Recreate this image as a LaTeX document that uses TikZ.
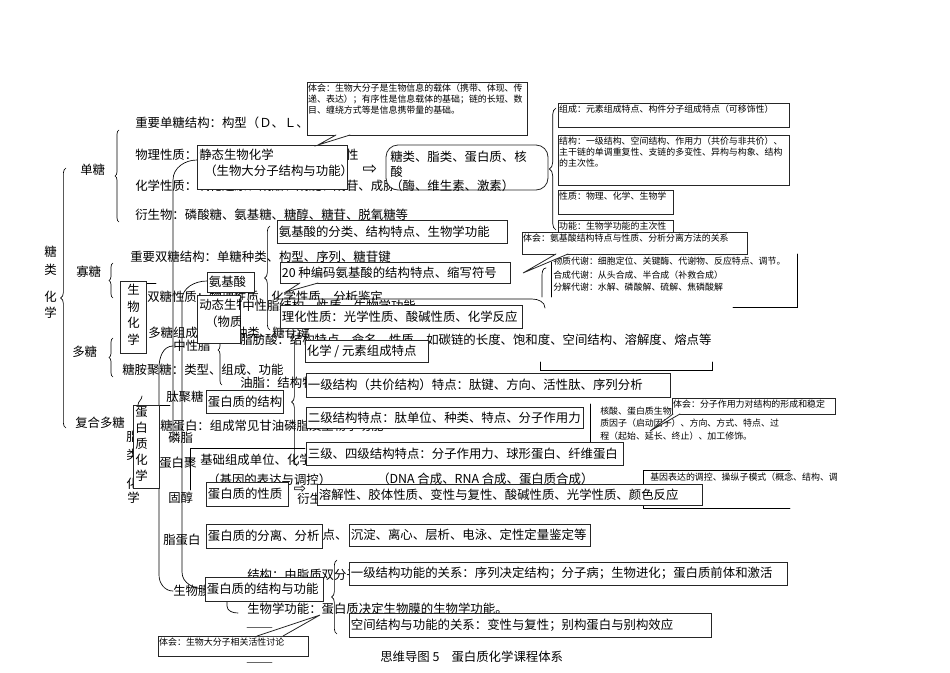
\documentclass[tikz,border=0pt]{standalone}
\usepackage{fontspec}
\setmainfont{Noto Sans CJK SC}
\newfontfamily\symfont{DejaVu Sans}
\usetikzlibrary{fit,decorations.pathreplacing}
\tikzset{
  txt/.style={inner sep=0pt,anchor=west,font=\fontsize{9.3}{12.4}\selectfont},
  note/.style={inner sep=0pt,anchor=west,align=left,font=\fontsize{6.7}{8.4}\selectfont},
  boxed/.style={draw=black!85,fill=white,line width=0.6pt,inner sep=0pt},
  brc/.style={decorate,decoration={brace,amplitude=#1},line width=0.5pt},
  ln/.style={line width=0.5pt},
  tail/.style={draw=black!85,fill=white,line width=0.6pt}
}
% box with one line of text
\newcommand\bx[6]{%
  \node[boxed,fit={(#2,#3) (#4,#5)}] (#1) {};
  \node[txt] (#1t) at ([xshift=1.5pt]#1.west) {#6};}
% box with small text from the top
\newcommand\nbx[6]{%
  \node[boxed,fit={(#2,#3) (#4,#5)}] (#1) {};
  \node[note,anchor=north west] (#1t) at ([shift={(1pt,-1.5pt)}]#1.north west) {#6};}
\begin{document}
\begin{tikzpicture}[x=0.75pt,y=-0.75pt,line cap=round]
\useasboundingbox (0,0) rectangle (950,672);
% sugar map (behind)
\node[txt] (c1) at (44,252) {糖};
\node[txt] (c2) at (44,270) {类};
\node[txt] (c3) at (44,297) {化};
\node[txt] (c4) at (44,313) {学};
\draw[brc=4pt] (66,428) -- (66,168);
\node[txt] (mono) at (80,170) {单糖};
\node[txt] (olig) at (76,272) {寡糖};
\node[txt] (poly) at (72,352) {多糖};
\node[txt] (cplx) at (75,423) {复合多糖};
\draw[brc=3pt] (119,222) -- (119,130);
\draw[brc=3pt] (113,298) -- (113,263);
\draw[brc=3pt] (113,377) -- (113,338);
\node[txt] (s1) at (135,123) {重要单糖结构：构型（Ｄ、Ｌ、α、β）};
\node[txt] (s2) at (135,155) {物理性质：甜度、溶解性、旋光、变旋性};
\node[txt] (s3) at (135,186) {化学性质：氧化还原、成酯、成醚、成苷、成脎};
\node[txt] (s4) at (135,215) {衍生物：磷酸糖、氨基糖、糖醇、糖苷、脱氧糖等};
\node[txt] (s5) at (130,257) {重要双糖结构：单糖种类、构型、序列、糖苷键};
\node[txt] (s6) at (147,297) {双糖性质：物理性质、化学性质、分析鉴定};
\node[txt] (s7) at (148,333) {多糖组成：单糖种类、糖苷键};
\node[txt] (s8) at (122,370) {糖胺聚糖：类型、组成、功能};
\node[txt] (s9) at (166,397) {肽聚糖};
\node[txt] (s10) at (160,426) {糖蛋白：组成常见甘油磷脂及生物学功能};
\node[txt] (s11) at (159,463) {蛋白聚};
% lipid map (behind)
\node[txt] (f1) at (126,437) {脂};
\node[txt] (f2) at (126,455) {类};
\node[txt] (f3) at (126,484) {化};
\node[txt] (f4) at (127,498) {学};
\node[txt] (l1) at (173,346) {中性脂};
\node[txt] (l3) at (240,340) {脂肪酸：结构特点、命名、性质，如碳链的长度、饱和度、空间结构、溶解度、熔点等};
\node[txt] (l4) at (240,383) {油脂：结构特点、命名、性质};
\node[txt] (l5) at (168,438) {磷脂};
\node[txt] (l6) at (168,498) {固醇};
\node[txt] (l7) at (163,540) {脂蛋白};
\node[txt] (l8) at (173,591) {生物膜};
\node[txt] (l9) at (247,575) {结构：由脂质双分子层构成};
\node[txt] (l10) at (247,609) {生物学功能：蛋白质决定生物膜的生物学功能。};
\draw[brc=3pt] (222,385) -- (222,315);
\draw[ln] (275,299) -- (532,299) to[out=0,in=90] (545,308);
\draw[ln] (540,362) -- (540,370) -- (712,370) -- (712,362);
% gene and metabolism map (behind)
\node[txt] (g1) at (200,460) {基础组成单位、化学组成与结构};
\node[txt] (g2) at (207,480) {（基因的表达与调控）};
\node[txt] (g3) at (377,479) {（DNA 合成、RNA 合成、蛋白质合成）};
\node[txt] (g4) at (297,499) {衍生};
\node[txt] (g5) at (310,535) {特点、};
\draw[ln] (190,490) -- (190,448) -- (305,448);
\node[note] (m1) at (553,261) {物质代谢：细胞定位、关键酶、代谢物、反应特点、调节。};
\node[note] (m2) at (553,275) {合成代谢：从头合成、半合成（补救合成）};
\node[note] (m3) at (553,287) {分解代谢：水解、磷酸解、硫解、焦磷酸解};
\draw[ln] (551,262) -- (551,297);
\draw[ln] (546,268) to[out=180,in=90] (542,276) -- (542,297);
\draw[ln] (797,254) -- (797,307) -- (733,307);
\node[note] (n1) at (600,411) {核酸、蛋白质生物合成：模板、原料、酶和蛋白};
\node[note] (n2) at (600,423) {质因子（启动因子）、方向、方式、特点、过};
\node[note] (n3) at (600,436) {程（起始、延长、终止）、加工修饰。};
\draw[ln] (590,404) -- (590,442);
\draw[ln] (790,508) -- (643,508) -- (643,470) -- (790,470);
\node[note] (n4) at (650,477) {基因表达的调控、操纵子模式（概念、结构、调};
% trunk lines
\draw[ln] (146,283) -- (156,283);
\draw[ln] (197,160) to[out=180,in=90] (173,180) -- (173,440);
\draw[ln] (l1.west) to[out=180,in=90] (159,368) -- (159,575) to[out=-90,in=180] (l8.west);
\draw[ln] (207,281) to[out=180,in=90] (182,300) -- (182,572) to[out=-90,in=180] (205,589);
\draw[ln] (227,601) -- (227,606) to[out=-90,in=180] (238,613);
\draw[ln] (138,405) to[out=90,in=-90] (142,396);
\draw[ln] (159,405) -- (170,405);
\draw[ln, black!60] (247,627) -- (272,627);
\draw[ln, black!60] (247,662) -- (272,662);
% static / dynamic biochemistry
\node[boxed,fit={(120,281) (146,353)}] (bio) {};
\node[txt,anchor=north west,align=left] (biot) at (127,284) {生\\物\\化\\学};
\node[boxed,fit={(197,295) (240,343)}] (dyn) {};
\begin{scope}
\clip (dyn.south west) rectangle (dyn.north east);
\node[txt] (dynt) at (199,305) {动态生物化学};
\node[txt] (dynu) at (205,322) {（物质代谢）};
\end{scope}
\node[txt,fill=white] (l2) at (242,306) {中性脂结构、性质、生物学功能};
\node[boxed,fit={(197,145) (347,189)}] (stat) {};
\node[txt,anchor=west] (statt) at (199,155) {静态生物化学};
\node[txt,anchor=west] (statu) at (204,171) {（生物大分子结构与功能）};
\node[font=\symfont\fontsize{13}{13}\selectfont,inner sep=0pt] (ar1) at (370,170) {⇨};
\node[boxed,rounded corners=9pt,fit={(386,145) (548,190)}] (mol) {};
\node[txt,anchor=north west,align=left,font=\fontsize{9.3}{10.9}\selectfont] (molt) at (390,151) {糖类、脂类、蛋白质、核\\酸\\（酶、维生素、激素）};
% note on top
\nbx{k1}{307}{82}{527}{135}{体会：生物大分子是生物信息的载体（携带、体现、传\\递、表达）；有序性是信息载体的基础；链的长短、数\\目、缠绕方式等是信息携带量的基础。}
\filldraw[tail] (336,135) -- (318,145) -- (350,135);
% features of macromolecules
\draw[brc=5pt] (556,230) -- (556,108);
\nbx{r1}{558}{103}{789}{127}{组成：元素组成特点、构件分子组成特点（可移饰性）}
\nbx{r2}{558}{135}{789}{185}{结构：一级结构、空间结构、作用力（共价与非共价）、\\主干链的单调重复性、支链的多变性、异构与构象、结构\\的主次性。}
\nbx{r3}{558}{190}{673}{214}{性质：物理、化学、生物学}
\nbx{r4}{558}{220}{673}{236}{功能：生物学功能的主次性}
\nbx{k2}{522}{232}{747}{254}{体会：氨基酸结构特点与性质、分析分离方法的关系}
\filldraw[tail] (556,254) -- (523,273) -- (568,254);
% amino acids
\draw[brc=4pt] (270,330) -- (270,226);
\bx{aa}{207}{272}{254}{292}{氨基酸}
\bx{a1}{277}{220}{507}{243}{氨基酸的分类、结构特点、生物学功能}
\bx{a2}{280}{262}{510}{283}{20 种编码氨基酸的结构特点、缩写符号}
\filldraw[tail] (300,283) -- (286,292) -- (318,283);
\bx{a3}{280}{305}{522}{328}{理化性质：光学性质、酸碱性质、化学反应}
% protein
\node[boxed,fit={(133,405) (159,488)}] (pc) {};
\node[txt,anchor=north west,align=left,font=\fontsize{9.3}{12}\selectfont] (pct) at (135,406) {蛋\\白\\质\\化\\学};
\draw[brc=4pt] (297,466) -- (297,338);
\bx{p1}{206}{390}{283}{413}{蛋白质的结构}
\bx{q1}{305}{340}{428}{362}{化学 / 元素组成特点}
\bx{q2}{306}{373}{670}{397}{一级结构（共价结构）特点：肽键、方向、活性肽、序列分析}
\bx{q3}{306}{407}{583}{428}{二级结构特点：肽单位、种类、特点、分子作用力}
\bx{q4}{306}{442}{623}{465}{三级、四级结构特点：分子作用力、球形蛋白、纤维蛋白}
\nbx{k3}{672}{398}{835}{414}{体会：分子作用力对结构的形成和稳定}
\filldraw[tail] (673,414) -- (650,431) -- (680,414);
\bx{p2}{206}{482}{288}{506}{蛋白质的性质}
\node[font=\symfont\fontsize{11}{11}\selectfont,inner sep=0pt,fill=white] (ar2) at (300,489) {⇨};
\bx{q5}{317}{484}{702}{505}{溶解性、胶体性质、变性与复性、酸碱性质、光学性质、颜色反应}
\bx{p3}{206}{524}{322}{548}{蛋白质的分离、分析}
\bx{q6}{349}{524}{590}{546}{沉淀、离心、层析、电泳、定性定量鉴定等}
\draw[brc=4pt] (337,634) -- (337,560);
\bx{p4}{205}{577}{323}{601}{蛋白质的结构与功能}
\bx{q7}{349}{562}{787}{585}{一级结构功能的关系：序列决定结构；分子病；生物进化；蛋白质前体和激活}
\bx{q8}{349}{613}{711}{637}{空间结构与功能的关系：变性与复性；别构蛋白与别构效应}
\nbx{k4}{158}{636}{308}{656}{体会：生物大分子相关活性讨论}
\filldraw[tail] (257,636) -- (320,615) -- (283,636);
% caption
\node[txt] (cap) at (380,657) {思维导图 5\hspace{9pt}蛋白质化学课程体系};
\end{tikzpicture}
\end{document}
